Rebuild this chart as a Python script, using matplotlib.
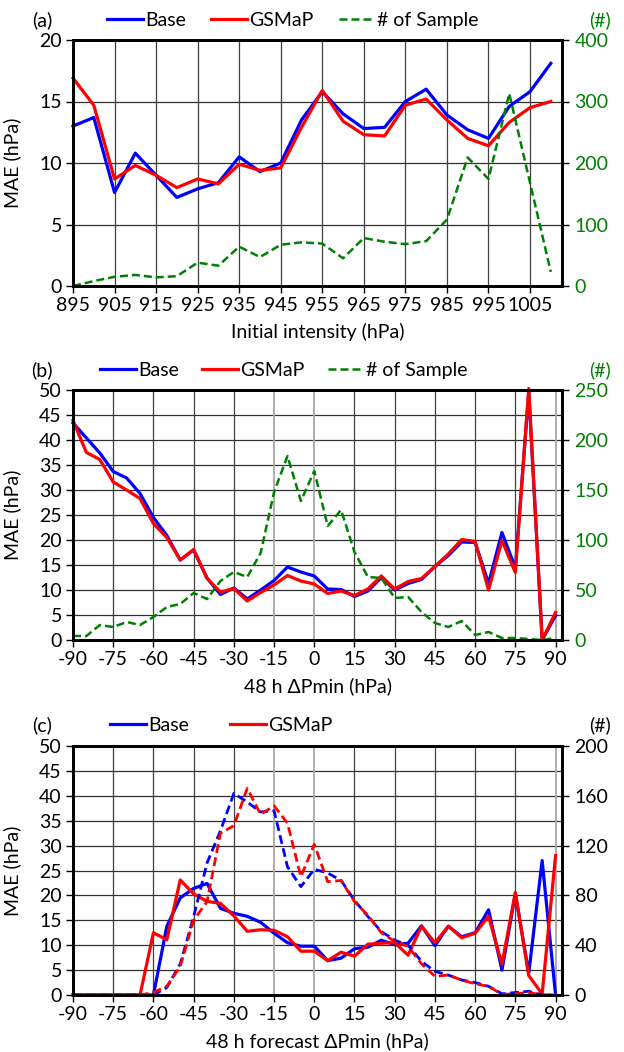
import matplotlib
matplotlib.use('Agg')
import matplotlib.pyplot as plt

plt.rcParams['font.family'] = ['Lato', 'DejaVu Sans']
plt.rcParams['font.size'] = 14
plt.rcParams['axes.unicode_minus'] = False

# (a) MAE by initial intensity
a_x = [895, 900, 905, 910, 915, 920, 925, 930, 935, 940, 945, 950,
       955, 960, 965, 970, 975, 980, 985, 990, 995, 1000, 1005, 1010]
a_base = [13.0, 13.7, 7.6, 10.8, 9.0, 7.2, 7.9, 8.4, 10.5, 9.3, 10.0, 13.5,
          15.8, 14.0, 12.8, 12.9, 15.0, 16.0, 13.9, 12.7, 12.0, 14.6, 15.8, 18.1]
a_gsmap = [16.9, 14.7, 8.7, 9.8, 9.0, 8.0, 8.7, 8.3, 9.9, 9.4, 9.6, 12.9,
           15.9, 13.4, 12.3, 12.2, 14.7, 15.2, 13.5, 12.0, 11.4, 13.3, 14.5, 15.0]
a_n = [0, 8, 15, 18, 14, 16, 38, 33, 64, 47, 67, 71,
       69, 45, 78, 72, 68, 73, 108, 209, 174, 313, 168, 23]
a_ticks = [895, 905, 915, 925, 935, 945, 955, 965, 975, 985, 995, 1005]

# (b) / (c) share the same delta-P bins
dp = [-90, -85, -80, -75, -70, -65, -60, -55, -50, -45, -40, -35, -30,
      -25, -20, -15, -10, -5, 0, 5, 10, 15, 20, 25, 30, 35, 40, 45, 50,
      55, 60, 65, 70, 75, 80, 85, 90]
dp_ticks = [-90, -75, -60, -45, -30, -15, 0, 15, 30, 45, 60, 75, 90]

b_base = [43.4, 40.4, 37.4, 33.7, 32.4, 29.3, 24.5, 20.9, 16.0, 18.0, 12.4, 9.1, 10.4,
          8.2, 10.0, 11.9, 14.6, 13.6, 12.8, 10.2, 10.1, 8.7, 9.8, 12.5, 10.0, 11.3, 12.1,
          14.7, 16.9, 19.6, 19.5, 11.3, 21.5, 14.4, 49.6, 0.0, 4.9]
b_gsmap = [43.9, 37.5, 36.1, 31.6, 30.0, 28.3, 23.3, 20.5, 16.0, 18.1, 12.3, 9.6, 10.3,
           7.8, 9.5, 11.0, 12.9, 11.8, 11.2, 9.3, 9.8, 8.9, 10.2, 12.8, 10.2, 11.7, 12.3,
           14.7, 17.2, 20.1, 19.7, 10.0, 19.9, 13.5, 50.3, 0.0, 5.5]
b_n = [4, 4, 15, 13, 18, 15, 23, 33, 36, 47, 41, 59, 68, 63, 87, 148, 184, 139, 169,
       114, 130, 88, 63, 62, 42, 43, 28, 17, 13, 19, 5, 8, 2, 2, 1, 0, 2]

c_base = [0, 0, 0, 0, 0, 0, 0.0, 13.8, 19.5, 21.4, 22.4, 17.4, 16.4, 15.8, 14.6, 12.4,
          10.5, 9.8, 9.8, 6.9, 7.4, 9.3, 9.6, 11.0, 10.1, 10.4, 13.9, 9.9, 13.8, 11.7,
          12.5, 17.1, 5.0, 20.3, 4.4, 27.0, 0.0]
c_gsmap = [0, 0, 0, 0, 0, 0, 12.5, 11.1, 23.1, 20.3, 18.8, 18.4, 15.9, 12.8, 13.1, 13.0,
           11.7, 8.8, 8.8, 6.9, 8.6, 7.8, 10.2, 10.4, 10.5, 8.0, 13.8, 10.5, 13.8, 11.5,
           12.4, 15.8, 6.2, 20.6, 3.9, 0.2, 28.0]
c_n_base = [0, 0, 0, 0, 0, 0, 0, 6, 25, 63, 106, 132, 162, 155, 147, 148, 103, 87, 101,
            98, 92, 76, 63, 51, 44, 40, 27, 19, 16, 12, 10, 7, 1, 2, 3, 0, 0]
c_n_gsmap = [0, 0, 0, 0, 0, 0, 2, 7, 23, 60, 75, 130, 136, 166, 145, 152, 138, 95, 121,
             91, 92, 75, 64, 50, 43, 39, 25, 15, 16, 12, 9, 7, 0.5, 1, 2, 0, 0.5]

BLUE = '#0000ff'
RED = '#ff0000'
GREEN = '#008000'
DASH = (0, (3.2, 1.6))
FS = 14

fig = plt.figure(figsize=(6.24, 10.52), dpi=100)
W = 624.0
H = 1052.0


def make_axes(top, bottom, left=73, right=562):
    return fig.add_axes([left / W, 1 - bottom / H, (right - left) / W, (bottom - top) / H])


def style(ax, ax2, xticks, xlim, ylim, yticks, ylim2, yticks2, rcolor, light=()):
    ax.set_xlim(*xlim)
    ax.set_ylim(*ylim)
    ax.set_xticks(xticks)
    ax.set_yticks(yticks)
    ax.set_yticklabels([str(v) for v in yticks])
    ax2.set_ylim(*ylim2)
    ax2.set_yticks(yticks2)
    ax2.set_yticklabels([str(v) for v in yticks2])
    for y in yticks[1:-1]:
        ax.axhline(y, color='#303030', lw=0.9, zorder=0)
    for x in xticks:
        c = '#a8a8a8' if x in light else '#404040'
        lw = 1.3 if x in light else 0.9
        ax.axvline(x, color=c, lw=lw, zorder=0)
    for a in (ax, ax2):
        for s in a.spines.values():
            s.set_linewidth(2.0)
            s.set_color('black')
    ax.tick_params(direction='out', length=5, width=1, labelsize=FS, pad=3)
    ax2.tick_params(direction='out', length=5, width=1, labelsize=FS, pad=4,
                    labelcolor=rcolor)
    ax.set_ylabel('MAE (hPa)', fontsize=FS)
    ax.yaxis.set_label_coords(-0.106, 0.5)


# ---------- (a) ----------
ax = make_axes(40, 286)
ax2 = ax.twinx()
l1, = ax.plot(a_x, a_base, color=BLUE, lw=2.3, clip_on=False, label='Base')
l2, = ax.plot(a_x, a_gsmap, color=RED, lw=2.3, clip_on=False, label='GSMaP')
l3, = ax2.plot(a_x, a_n, color=GREEN, lw=1.8, ls=DASH, clip_on=False, label='# of Sample')
style(ax, ax2, a_ticks, (895, 1012.7), (0, 20), [0, 5, 10, 15, 20],
      (0, 400), [0, 100, 200, 300, 400], GREEN)
ax.set_xlabel('Initial intensity (hPa)', fontsize=FS)
ax.xaxis.set_label_coords(0.5, -0.15)
ax.legend(handles=[l1, l2, l3], loc='center left', bbox_to_anchor=(0.07, 1.081),
          ncol=3, frameon=False, handlelength=1.85, handletextpad=0.1,
          columnspacing=1.3, borderpad=0, borderaxespad=0, fontsize=FS)
fig.text(42 / W, 1 - 20 / H, '(a)', ha='center', va='center', fontsize=FS)
fig.text(600 / W, 1 - 20 / H, '(#)', ha='center', va='center', fontsize=FS, color=GREEN)

# ---------- (b) ----------
ax = make_axes(390, 640)
ax2 = ax.twinx()
l1, = ax.plot(dp, b_base, color=BLUE, lw=2.3, clip_on=False, label='Base')
l2, = ax.plot(dp, b_gsmap, color=RED, lw=2.3, clip_on=False, label='GSMaP')
l3, = ax2.plot(dp, b_n, color=GREEN, lw=1.8, ls=DASH, clip_on=False, label='# of Sample')
style(ax, ax2, dp_ticks, (-90, 92.4), (0, 50), list(range(0, 55, 5)),
      (0, 250), [0, 50, 100, 150, 200, 250], GREEN, light=(-15, 0, 90))
ax.set_xlabel('48 h ΔPmin (hPa)', fontsize=FS)
ax.xaxis.set_label_coords(0.5, -0.15)
ax.legend(handles=[l1, l2, l3], loc='center left', bbox_to_anchor=(0.055, 1.077),
          ncol=3, frameon=False, handlelength=1.85, handletextpad=0.1,
          columnspacing=1.2, borderpad=0, borderaxespad=0, fontsize=FS)
fig.text(42 / W, 1 - 370 / H, '(b)', ha='center', va='center', fontsize=FS)
fig.text(600 / W, 1 - 370 / H, '(#)', ha='center', va='center', fontsize=FS, color=GREEN)

# ---------- (c) ----------
ax = make_axes(746, 995)
ax2 = ax.twinx()
l1, = ax.plot(dp, c_base, color=BLUE, lw=2.3, clip_on=False, label='Base')
l2, = ax.plot(dp, c_gsmap, color=RED, lw=2.3, clip_on=False, label='GSMaP')
ax2.plot(dp, c_n_base, color=BLUE, lw=2.0, ls=DASH, clip_on=False)
ax2.plot(dp, c_n_gsmap, color=RED, lw=2.0, ls=DASH, clip_on=False)
style(ax, ax2, dp_ticks, (-90, 92.4), (0, 50), list(range(0, 55, 5)),
      (0, 200), [0, 40, 80, 120, 160, 200], 'black', light=(-15, 0, 90))
ax.set_xlabel('48 h forecast ΔPmin (hPa)', fontsize=FS)
ax.xaxis.set_label_coords(0.5, -0.15)
ax.legend(handles=[l1, l2], loc='center left', bbox_to_anchor=(0.076, 1.084),
          ncol=2, frameon=False, handlelength=1.85, handletextpad=0.1,
          columnspacing=2.1, borderpad=0, borderaxespad=0, fontsize=FS)
fig.text(42 / W, 1 - 725 / H, '(c)', ha='center', va='center', fontsize=FS)
fig.text(600 / W, 1 - 725 / H, '(#)', ha='center', va='center', fontsize=FS)

fig.savefig('out.png', dpi=100)
